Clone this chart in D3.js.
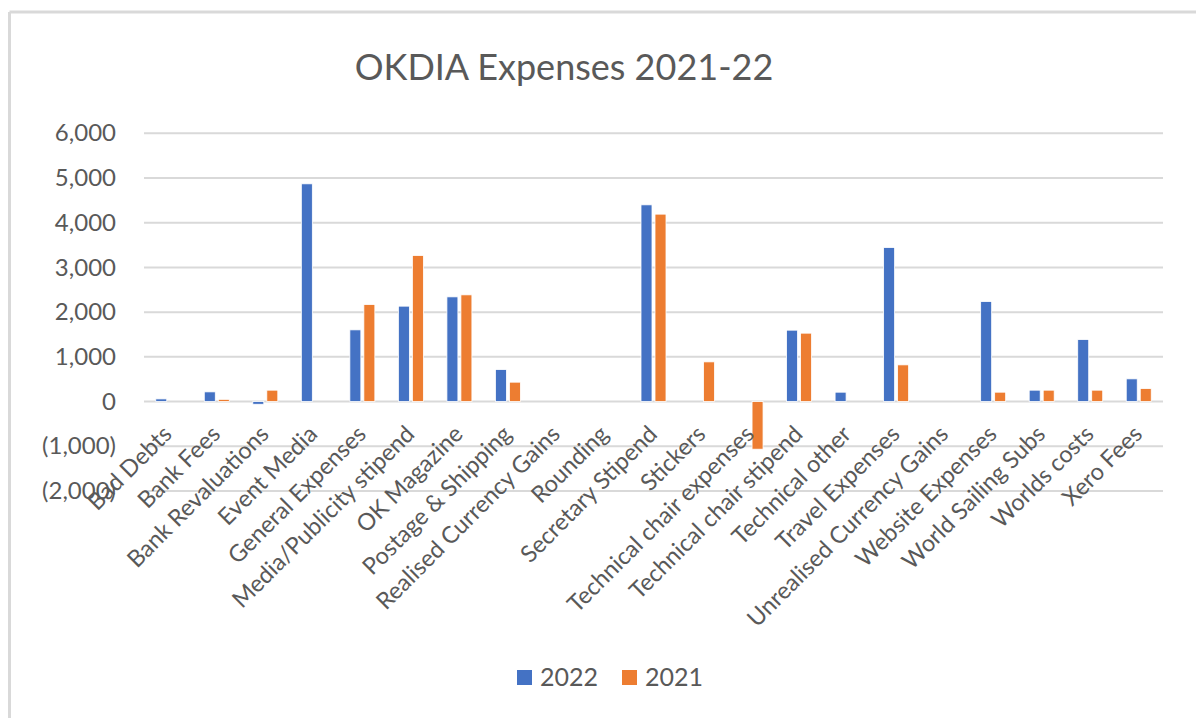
<!DOCTYPE html>
<html>
<head>
<meta charset="utf-8">
<script src="https://cdn.jsdelivr.net/npm/d3@7"></script>
<style>
  body { margin: 0; background: #fff; }
  text { font-family: Lato, "Open Sans", sans-serif; fill: #595959; }
</style>
</head>
<body>
<svg id="chart" width="1196" height="718"></svg>
<script>
// data
var categories = ["Bad Debts", "Bank Fees", "Bank Revaluations", "Event Media", "General Expenses",
  "Media/Publicity stipend", "OK Magazine", "Postage & Shipping", "Realised Currency Gains", "Rounding",
  "Secretary Stipend", "Stickers", "Technical chair expenses", "Technical chair stipend", "Technical other",
  "Travel Expenses", "Unrealised Currency Gains", "Website Expenses", "World Sailing Subs", "Worlds costs", "Xero Fees"];
var values2022 = [60, 217, -60, 4870, 1604, 2134, 2342, 716, 0, 0, 4400, 0, 0, 1597, 210, 3445, 0, 2237, 255, 1387, 508];
var values2021 = [0, 50, 255, 0, 2170, 3266, 2387, 434, 0, 0, 4192, 888, -1065, 1530, 0, 821, 0, 210, 255, 255, 291];
var seriesNames = ["2022", "2021"];
var yTicks = [-2000, -1000, 0, 1000, 2000, 3000, 4000, 5000, 6000];

var colors = ["#4472C4", "#ED7D31"];
var svg = d3.select("#chart");

// frame (left and top edges visible)
svg.append("line").attr("x1", 9.5).attr("x2", 1196).attr("y1", 12).attr("y2", 12)
  .attr("stroke", "#d9d9d9").attr("stroke-width", 3);
svg.append("line").attr("x1", 9.5).attr("x2", 9.5).attr("y1", 12).attr("y2", 718)
  .attr("stroke", "#d9d9d9").attr("stroke-width", 3);

var left = 144, right = 1163;
var x = d3.scaleBand().domain(categories).range([left, right]).paddingInner(0).paddingOuter(0);
var y = d3.scaleLinear().domain([-2000, 6000]).range([491, 133.3]);

// title
svg.append("text").attr("x", 564).attr("y", 80)
  .attr("text-anchor", "middle").style("font-size", "36px").text("OKDIA Expenses 2021-22");

// gridlines
svg.append("g").selectAll("line").data(yTicks).enter().append("line")
  .attr("x1", left).attr("x2", right)
  .attr("y1", function(d) { return y(d); }).attr("y2", function(d) { return y(d); })
  .attr("stroke", "#d9d9d9").attr("stroke-width", 2);

// y axis labels
var fmt = d3.format(",");
var yAxis = d3.axisLeft(y).tickValues(yTicks).tickSize(0).tickPadding(0)
  .tickFormat(function(d) { return d < 0 ? "(" + fmt(-d) + ")" : fmt(d); });
var gy = svg.append("g").attr("transform", "translate(116,0)").call(yAxis);
gy.select(".domain").remove();
gy.selectAll("text").style("font-size", "24px").attr("fill", "#595959")
  .style("font-family", "Lato, 'Open Sans', sans-serif");

// bars
var barW = 11, gap = 3;
var groupW = barW * 2 + gap;
var series = [values2022, values2021];
series.forEach(function(vals, si) {
  svg.append("g").selectAll("rect").data(vals).enter().append("rect")
    .attr("x", function(d, i) { return x(categories[i]) + (x.bandwidth() - groupW) / 2 + si * (barW + gap); })
    .attr("width", barW)
    .attr("y", function(d) { return Math.min(y(d), y(0)); })
    .attr("height", function(d) { return Math.abs(y(d) - y(0)); })
    .attr("fill", colors[si])
    .attr("stroke", "#fff").attr("stroke-width", 0.8);
});

// category labels
var xAxis = d3.axisBottom(x).tickSize(0).tickPadding(0);
var gx = svg.append("g").attr("transform", "translate(0," + y(0) + ")").call(xAxis);
gx.select(".domain").remove();
gx.selectAll("text")
  .attr("y", 0).attr("dy", 0)
  .attr("text-anchor", "end")
  .attr("transform", "translate(5,34) rotate(-45)")
  .attr("fill", "#595959")
  .style("font-size", "23.5px")
  .style("font-family", "Lato, 'Open Sans', sans-serif");

// legend
var legendX = [517, 622];
seriesNames.forEach(function(name, i) {
  svg.append("rect").attr("x", legendX[i]).attr("y", 670).attr("width", 15).attr("height", 15)
    .attr("fill", colors[i]);
  svg.append("text").attr("x", legendX[i] + 23).attr("y", 686).style("font-size", "25px").text(name);
});
</script>
</body>
</html>
